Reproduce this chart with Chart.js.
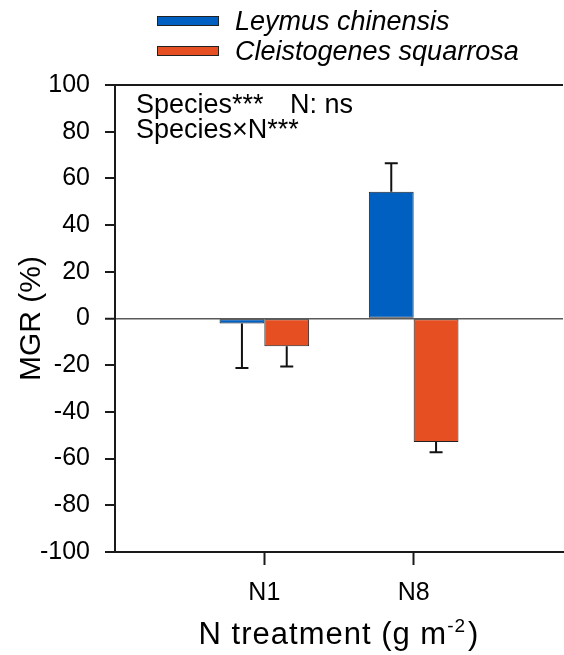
<!DOCTYPE html>
<html><head><meta charset="utf-8">
<script src="https://cdn.jsdelivr.net/npm/chart.js@4"></script>
<style>html,body{margin:0;padding:0;background:#fff}#wrap{width:564px;height:655px;position:relative}</style>
</head><body><div id="wrap"><canvas id="c"></canvas></div>
<script>
const categories = ['N1', 'N8'];
const seriesNames = ['Leymus chinensis', 'Cleistogenes squarrosa'];
const leymusValues = [-2.1, 54.3];
const leymusErrors = [19.1, 12.2];
const cleistoValues = [-11.9, -52.9];
const cleistoErrors = [8.7, 4.4];
const yTickValues = [-100, -80, -60, -40, -20, 0, 20, 40, 60, 80, 100];
const statsLine1 = ['Species***', 'N: ns'];
const statsLine2 = 'Species\u00D7N***';
const yTitle = 'MGR (%)';
const xTitleMain = 'N treatment (g m';
const xTitleSup = '-2';
const xTitleEnd = ')';

const colors = ['#0060C2', '#E54F22'];
const errors = [leymusErrors, cleistoErrors];
const FONT = "'Liberation Sans', Arial, sans-serif";

const errorBars = {
  id: 'errorBars',
  afterDatasetsDraw(chart) {
    const ctx = chart.ctx, ys = chart.scales.y;
    ctx.save();
    ctx.strokeStyle = '#111';
    ctx.lineWidth = 2;
    chart.data.datasets.forEach((ds, di) => {
      const meta = chart.getDatasetMeta(di);
      meta.data.forEach((el, i) => {
        const v = ds.data[i].y;
        const e = errors[di][i];
        const end = v >= 0 ? v + e : v - e;
        const yp = ys.getPixelForValue(end);
        ctx.beginPath();
        ctx.moveTo(el.x, el.y);
        ctx.lineTo(el.x, yp);
        ctx.moveTo(el.x - 6.5, yp);
        ctx.lineTo(el.x + 6.5, yp);
        ctx.stroke();
      });
    });
    ctx.restore();
  }
};

const decor = {
  id: 'decor',
  afterDraw(chart) {
    const ctx = chart.ctx, a = chart.chartArea;
    ctx.save();
    ctx.strokeStyle = '#1a1a1a';
    ctx.lineWidth = 2;
    ctx.beginPath();
    ctx.moveTo(a.left - 1, a.top);
    ctx.lineTo(a.right, a.top);
    ctx.stroke();
    // legend
    ctx.lineWidth = 1;
    ctx.strokeStyle = '#222';
    ctx.textBaseline = 'alphabetic';
    ctx.textAlign = 'left';
    const lx = 157, boxTop = [16, 46], base = [30, 60];
    seriesNames.forEach((n, i) => {
      ctx.fillStyle = colors[i];
      ctx.fillRect(lx, boxTop[i], 62, 10);
      ctx.strokeRect(lx + 0.5, boxTop[i] + 0.5, 61, 9);
      ctx.fillStyle = '#000';
      ctx.font = 'italic 27px ' + FONT;
      ctx.fillText(n, 235, base[i]);
    });
    // stats annotation
    ctx.fillStyle = '#000';
    ctx.font = '27px ' + FONT;
    ctx.fillText(statsLine1[0], 136, 113);
    ctx.fillText(statsLine1[1], 290, 113);
    ctx.fillText(statsLine2, 136, 138);
    // x title with superscript
    ctx.letterSpacing = '1px';
    ctx.font = '31px ' + FONT;
    const w1 = ctx.measureText(xTitleMain).width;
    const w3 = ctx.measureText(xTitleEnd).width;
    ctx.font = '19px ' + FONT;
    const w2 = ctx.measureText(xTitleSup).width;
    const cx = (a.left + a.right) / 2;
    let x = cx - (w1 + w2 + w3 + 2) / 2;
    const bl = 644;
    ctx.font = '31px ' + FONT;
    ctx.fillText(xTitleMain, x, bl);
    x += w1;
    ctx.font = '19px ' + FONT;
    ctx.fillText(xTitleSup, x, bl - 12);
    x += w2 + 2;
    ctx.font = '31px ' + FONT;
    ctx.fillText(xTitleEnd, x, bl);
    ctx.restore();
  }
};

new Chart(document.getElementById('c'), {
  type: 'bar',
  data: {
    datasets: [
      { label: seriesNames[0], data: categories.map((c, i) => ({ x: i + 1, y: leymusValues[i] })),
        backgroundColor: colors[0], borderColor: '#222', borderWidth: 1, borderSkipped: false },
      { label: seriesNames[1], data: categories.map((c, i) => ({ x: i + 1, y: cleistoValues[i] })),
        backgroundColor: colors[1], borderColor: '#222', borderWidth: 1, borderSkipped: false }
    ]
  },
  options: {
    responsive: true,
    maintainAspectRatio: false,
    animation: false,
    categoryPercentage: 0.6,
    barPercentage: 1.0,
    layout: { padding: { top: 85, right: 1, left: 0, bottom: 0 } },
    plugins: { legend: { display: false }, tooltip: { enabled: false } },
    scales: {
      x: {
        type: 'linear', min: 0, max: 3, offset: false,
        afterBuildTicks: s => { s.ticks = categories.map((c, i) => ({ value: i + 1 })); },
        afterFit: s => { s.height = 103; },
        ticks: { callback: v => categories[v - 1], color: '#000', padding: 13,
                 font: { family: FONT, size: 25 }, maxRotation: 0, autoSkip: false },
        grid: { offset: false, drawOnChartArea: false, drawTicks: true, tickLength: 13,
                tickWidth: 2, tickColor: '#1a1a1a' },
        border: { display: true, color: '#1a1a1a', width: 2 }
      },
      y: {
        min: -100, max: 100,
        afterBuildTicks: s => { s.ticks = yTickValues.map(v => ({ value: v })); },
        afterFit: s => { s.width = 115; },
        ticks: { color: '#000', padding: 15, font: { family: FONT, size: 25 } },
        grid: {
          drawOnChartArea: true, drawTicks: true, tickLength: 10, tickWidth: 2, tickColor: '#1a1a1a',
          color: c => (c.tick && c.tick.value === 0) ? '#5a5a5a' : 'rgba(0,0,0,0)',
          lineWidth: c => (c.tick && c.tick.value === 0) ? 1.5 : 0
        },
        border: { display: true, color: '#1a1a1a', width: 2 },
        title: { display: true, text: yTitle, color: '#000', font: { family: FONT, size: 30 },
                 padding: { top: 14, bottom: 0 } }
      }
    }
  },
  plugins: [errorBars, decor]
});
</script>
</body></html>
